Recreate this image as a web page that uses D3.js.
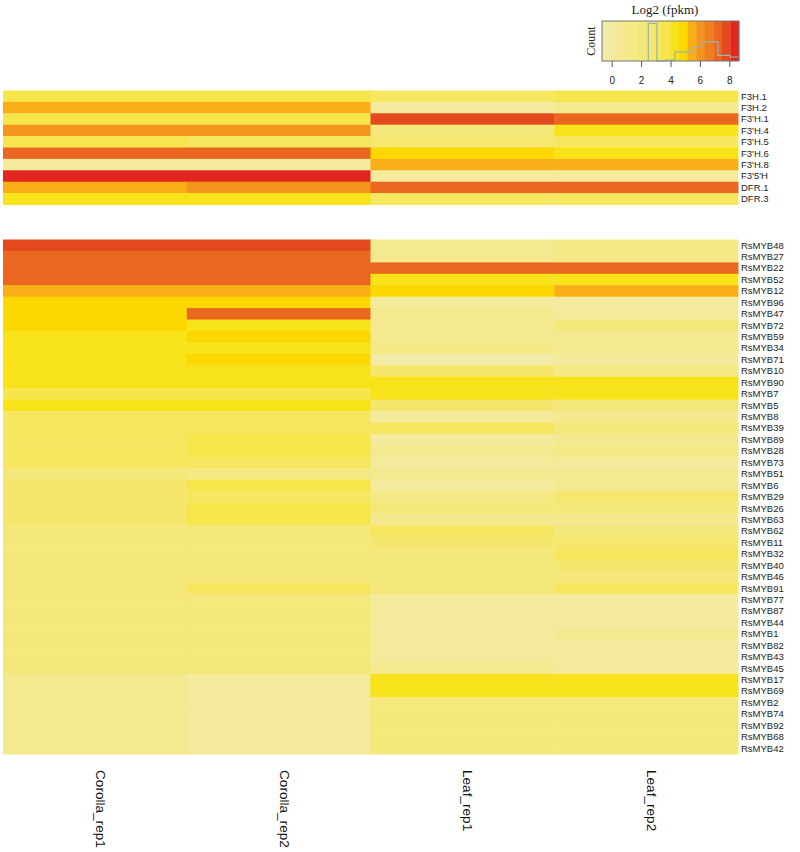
<!DOCTYPE html>
<html>
<head>
<meta charset="utf-8">
<script src="https://cdn.jsdelivr.net/npm/d3@7"></script>
<style>
  html, body { margin: 0; padding: 0; background: #fff; }
  svg { display: block; }
</style>
</head>
<body>
<script>
// ---------------- DATA ----------------
const samples = ["Corolla_rep1", "Corolla_rep2", "Leaf_rep1", "Leaf_rep2"];

const genesTop = ["F3H.1", "F3H.2", "F3'H.1", "F3'H.4", "F3'H.5", "F3'H.6", "F3'H.8", "F3'5'H", "DFR.1", "DFR.3"];
const valuesTop = [
  [3.8, 3.6, 3.2, 3.7],
  [5.4, 5.3, 0.3, 1.0],
  [3.8, 3.5, 7.9, 7.1],
  [6.1, 6.0, 1.9, 4.4],
  [3.7, 3.2, 2.6, 3.0],
  [7.2, 7.1, 4.9, 4.4],
  [0.3, 0.2, 5.5, 5.4],
  [8.5, 8.4, 0.2, 0.3],
  [5.4, 6.2, 7.2, 7.3],
  [4.2, 4.1, 3.0, 3.2]
];

const genesBottom = ["RsMYB48", "RsMYB27", "RsMYB22", "RsMYB52", "RsMYB12", "RsMYB96", "RsMYB47", "RsMYB72", "RsMYB59", "RsMYB34",
  "RsMYB71", "RsMYB10", "RsMYB90", "RsMYB7", "RsMYB5", "RsMYB8", "RsMYB39", "RsMYB89", "RsMYB28", "RsMYB73",
  "RsMYB51", "RsMYB6", "RsMYB29", "RsMYB26", "RsMYB63", "RsMYB62", "RsMYB11", "RsMYB32", "RsMYB40", "RsMYB46",
  "RsMYB91", "RsMYB77", "RsMYB87", "RsMYB44", "RsMYB1", "RsMYB82", "RsMYB43", "RsMYB45", "RsMYB17", "RsMYB69",
  "RsMYB2", "RsMYB74", "RsMYB92", "RsMYB68", "RsMYB42"];
const valuesBottom = [
  [7.8, 7.8, 1.0, 1.4],
  [7.3, 7.2, 1.0, 1.5],
  [7.2, 7.3, 7.2, 7.1],
  [7.1, 7.2, 4.4, 4.3],
  [5.6, 5.5, 4.8, 5.4],
  [4.9, 5.0, 0.2, 0.3],
  [4.8, 7.2, 0.8, 0.3],
  [4.9, 4.3, 0.9, 1.9],
  [4.4, 4.8, 0.9, 0.9],
  [4.3, 4.2, 1.2, 0.9],
  [4.3, 4.9, -0.3, 0.3],
  [4.1, 4.1, 2.5, 1.4],
  [4.1, 4.0, 4.4, 4.4],
  [3.8, 3.7, 4.3, 4.4],
  [4.4, 4.4, 2.5, 2.0],
  [3.3, 3.3, 0.3, 0.6],
  [3.2, 3.3, 3.1, 2.0],
  [2.9, 3.8, 0.3, 0.8],
  [3.0, 3.7, 0.8, 1.3],
  [3.1, 3.3, 0.2, 0.3],
  [2.0, 1.2, 0.8, 0.9],
  [2.6, 3.7, 0.2, 0.8],
  [2.6, 3.3, 1.3, 2.6],
  [2.6, 3.7, 1.9, 2.0],
  [2.6, 3.7, 0.9, 0.9],
  [2.0, 2.0, 3.2, 2.0],
  [2.0, 2.0, 2.6, 2.6],
  [2.0, 1.8, 2.0, 3.1],
  [2.0, 2.0, 2.0, 2.5],
  [2.0, 2.0, 2.0, 2.0],
  [2.0, 3.1, 2.0, 3.1],
  [1.9, 2.0, 0.2, 0.3],
  [2.0, 1.9, 0.3, 0.2],
  [2.0, 2.0, 0.2, 0.2],
  [1.9, 2.0, 0.3, 0.6],
  [2.0, 1.9, 0.2, 0.3],
  [1.9, 1.9, 0.3, 0.3],
  [2.0, 1.9, 0.7, 0.3],
  [0.8, 0.3, 4.4, 4.3],
  [0.7, 0.2, 4.3, 4.4],
  [0.8, 0.3, 2.0, 2.0],
  [0.6, 0.2, 2.0, 1.9],
  [0.8, 0.3, 2.0, 2.0],
  [0.7, 0.2, 1.9, 2.0],
  [0.8, 0.3, 2.0, 2.0]
];

// colour key
const keyDomain = [-0.66, 8.66];
const keyColors = ["#f2eaa8", "#f3ea9c", "#f4e98f", "#f4e985", "#f5e87a", "#f5e76e", "#f6e660", "#f7e54c",
  "#f8e31a", "#fcd800", "#f8ae17", "#f2941d", "#ee7e20", "#e9671f", "#e54a1f", "#e2261f"];
const keyTicks = [0, 2, 4, 6, 8];
const keyTitle = "Log2 (fpkm)";
const keyYLabel = "Count";
// histogram drawn in the key (bin breaks in data units, counts)
const histBreaks = [2.49, 3.08, 3.69, 4.31, 5.53, 6.12, 7.23, 8.05, 8.66];
const histCounts = [94, 0, 2, 23, 35, 48, 14, 10];

// ---------------- DRAW ----------------
const W = 800, H = 852;
const svg = d3.select("body").append("svg").attr("width", W).attr("height", H);

const color = d3.scaleQuantize().domain(keyDomain).range(keyColors);
const x = d3.scaleBand().domain(samples).range([3, 738]);
const yTop = d3.scaleBand().domain(genesTop).range([90.5, 204.5]);
const yBot = d3.scaleBand().domain(genesBottom).range([239.5, 754]);

function panel(genes, values, y) {
  const g = svg.append("g");
  const cells = [];
  genes.forEach((gene, i) => samples.forEach((s, j) => cells.push({ gene, s, v: values[i][j] })));
  g.selectAll("rect").data(cells).join("rect")
    .attr("x", d => x(d.s))
    .attr("y", d => y(d.gene))
    .attr("width", x.bandwidth() + 0.5)
    .attr("height", y.bandwidth() + 0.5)
    .attr("fill", d => color(d.v));
  g.selectAll("text").data(genes).join("text")
    .attr("x", 741)
    .attr("y", d => y(d) + y.bandwidth() / 2)
    .attr("dy", "0.35em")
    .attr("font-family", "Liberation Sans, Arial, sans-serif")
    .attr("font-size", 9.5)
    .attr("fill", "#222")
    .text(d => d);
}
panel(genesTop, valuesTop, yTop);
panel(genesBottom, valuesBottom, yBot);

// column labels
svg.append("g").selectAll("text").data(samples).join("text")
  .attr("transform", d => `translate(${x(d) + x.bandwidth() / 2 + 1},770) rotate(90)`)
  .attr("font-family", "Liberation Sans, Arial, sans-serif")
  .attr("font-size", 13.6)
  .attr("fill", "#111")
  .text(d => d);

// colour key
const kx = d3.scaleLinear().domain(keyDomain).range([602, 739]);
const ky = d3.scaleLinear().domain([0, 100]).range([61, 21]);
const key = svg.append("g");
const step = (keyDomain[1] - keyDomain[0]) / keyColors.length;
key.selectAll("rect.band").data(keyColors).join("rect")
  .attr("class", "band")
  .attr("x", (c, i) => kx(keyDomain[0] + i * step))
  .attr("y", ky(100))
  .attr("width", (c, i) => kx(keyDomain[0] + (i + 1) * step) - kx(keyDomain[0] + i * step) + 0.3)
  .attr("height", ky(0) - ky(100))
  .attr("fill", c => c);

// histogram step line
const pts = [[histBreaks[0], 0]];
histCounts.forEach((c, i) => pts.push([histBreaks[i], c]));
pts.push([histBreaks[histBreaks.length - 1], histCounts[histCounts.length - 1]]);
key.append("path")
  .attr("d", d3.line().x(d => kx(d[0])).y(d => ky(d[1])).curve(d3.curveStepAfter)(pts))
  .attr("fill", "none")
  .attr("stroke", "#94b8b4")
  .attr("stroke-width", 1.2);

key.append("rect")
  .attr("x", kx(keyDomain[0])).attr("y", ky(100))
  .attr("width", kx(keyDomain[1]) - kx(keyDomain[0]))
  .attr("height", ky(0) - ky(100))
  .attr("fill", "none").attr("stroke", "#777").attr("stroke-width", 1);

const axis = key.append("g").attr("transform", `translate(0,${ky(0)})`)
  .call(d3.axisBottom(kx).tickValues(keyTicks).tickSize(6).tickPadding(10).tickFormat(d3.format("d")));
axis.select(".domain").remove();
axis.selectAll("line").attr("stroke", "#555");
axis.selectAll("text").attr("font-family", "Liberation Sans, Arial, sans-serif").attr("font-size", 10).attr("fill", "#222");

key.append("text")
  .attr("x", 665).attr("y", 13.5)
  .attr("text-anchor", "middle")
  .attr("font-family", "Liberation Serif, Times New Roman, serif")
  .attr("font-size", 13)
  .attr("fill", "#222")
  .text(keyTitle);

key.append("text")
  .attr("transform", "translate(595,41) rotate(-90)")
  .attr("text-anchor", "middle")
  .attr("font-family", "Liberation Serif, Times New Roman, serif")
  .attr("font-size", 12)
  .attr("fill", "#222")
  .text(keyYLabel);
</script>
</body>
</html>
